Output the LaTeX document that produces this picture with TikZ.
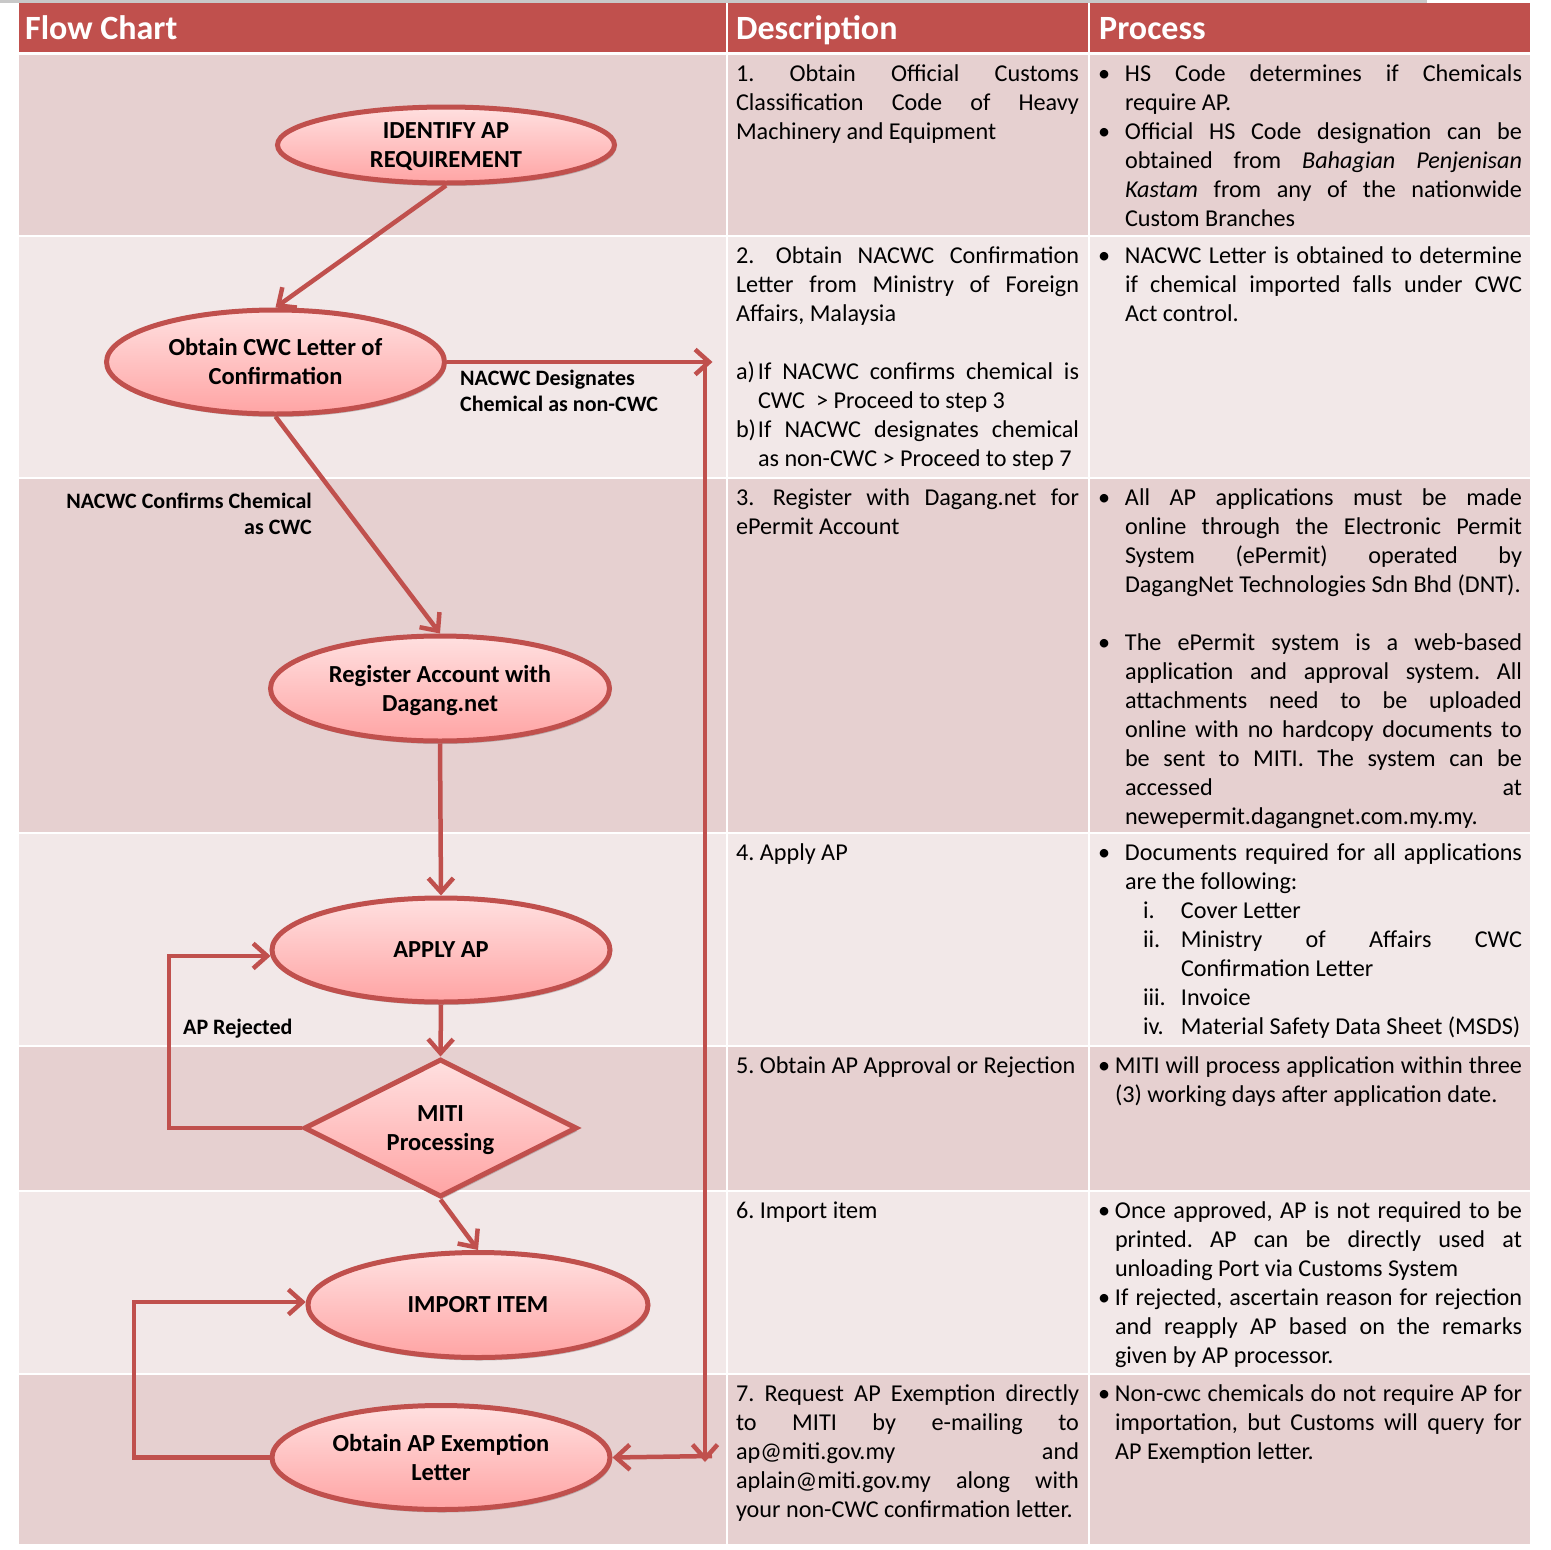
\documentclass[tikz,border=0pt]{standalone}
\usepackage{fontspec}
\setmainfont{Carlito}
\usetikzlibrary{shapes.geometric,arrows.meta,shadows}
\definecolor{hdr}{RGB}{192,80,77}
\definecolor{rowA}{RGB}{230,208,208}
\definecolor{rowB}{RGB}{242,232,232}
\definecolor{fillTop}{RGB}{255,224,224}
\definecolor{fillBot}{RGB}{255,164,164}
\definecolor{topgray}{RGB}{200,200,200}
\newcommand\xJL[2]{\strut\makebox[#1pt][s]{#2}}
\newcommand\xLL[1]{\strut#1}
\newcommand\xBJ[3]{\strut\makebox[#1pt][l]{•}\makebox[#2pt][s]{#3}}
\newcommand\xBL[2]{\strut\makebox[#1pt][l]{•}#2}
\newcommand\xIJ[3]{\strut\hspace*{#1pt}\makebox[#2pt][s]{#3}}
\newcommand\xIL[2]{\strut\hspace*{#1pt}#2}
\newcommand\topr{\rule{0pt}{22pt}}
\newcommand\botr{\rule[-6pt]{0pt}{0pt}}
\frenchspacing
\begin{document}
\begin{tikzpicture}[x=1pt,y=-1pt,
  cell/.style={anchor=north west, inner sep=0pt, outer sep=0pt, align=left, font=\fontsize{24.2}{29}\selectfont\frenchspacing},
  hdrtxt/.style={anchor=base west, inner sep=0pt, text=white, font=\fontsize{34}{40}\selectfont\bfseries},
  ell/.style={ellipse, draw=hdr, line width=5pt, top color=fillTop, bottom color=fillBot,
    drop shadow={shadow xshift=1.5pt, shadow yshift=-3pt, opacity=0.35, fill=black!60},
    inner xsep=0pt, inner ysep=-6pt, align=center, font=\fontsize{24.5}{29}\selectfont\bfseries},
  dia/.style={diamond, draw=hdr, line width=5pt, top color=fillTop, bottom color=fillBot,
    drop shadow={shadow xshift=1.5pt, shadow yshift=-3pt, opacity=0.35, fill=black!60},
    inner sep=0pt, aspect=1.96, align=center, font=\fontsize{24.5}{29}\selectfont\bfseries},
  conn/.style={draw=hdr, line width=4.5pt, -{Straight Barb[length=14pt,width=25pt]}},
  lbl/.style={inner sep=0pt, font=\fontsize{22}{26}\selectfont\bfseries}]
\useasboundingbox (0,0) rectangle (1551,1550);
\fill[white] (0,0) rectangle (1551,1550);
% table
\fill[topgray] (0,0) rectangle (1427,3);
\fill[hdr] (19,3) rectangle (1530,52);
\fill[rowA] (19,55) rectangle (1530,235);
\fill[rowB] (19,237) rectangle (1530,477);
\fill[rowA] (19,479) rectangle (1530,832);
\fill[rowB] (19,834) rectangle (1530,1045);
\fill[rowA] (19,1047) rectangle (1530,1190);
\fill[rowB] (19,1192) rectangle (1530,1373);
\fill[rowA] (19,1375) rectangle (1530,1544);
\draw[white, line width=2pt] (727,3) -- (727,1544);
\draw[white, line width=2pt] (1089,3) -- (1089,1544);
% headers
\node[hdrtxt] (h1) at (25,39) {Flow Chart};
\node[hdrtxt] (h2) at (736,39) {Description};
\node[hdrtxt] (h3) at (1099,39) {Process};
% description column
\node[cell] (d1) at (736,60.7) {\xJL{343}{1. Obtain Official Customs}\\ \xJL{343}{Classification Code of Heavy}\\ \xLL{Machinery and Equipment}};
\node[cell] (d2) at (736,242.7) {\xJL{343}{2.\hspace{6pt} Obtain NACWC Confirmation}\\ \xJL{343}{Letter from Ministry of Foreign}\\ \xLL{Affairs, Malaysia}\\ \strut\\
 \strut\makebox[22pt][l]{a)}\makebox[321pt][s]{If NACWC confirms chemical is}\\ \xIL{22}{CWC \ > Proceed to step 3}\\
 \strut\makebox[22pt][l]{b)}\makebox[321pt][s]{If NACWC designates chemical}\\ \xIL{22}{as non-CWC > Proceed to step 7}};
\node[cell] (d3) at (736,484.7) {\xJL{343}{3.\hspace{4pt} Register with Dagang.net for}\\ \xLL{ePermit Account}};
\node[cell] (d4) at (736,839.7) {\xLL{4. Apply AP}};
\node[cell] (d5) at (736,1052.7) {\xLL{5. Obtain AP Approval or Rejection}};
\node[cell] (d6) at (736,1197.7) {\xLL{6. Import item}};
\node[cell] (d7) at (736,1380.7) {\xJL{343}{7. Request AP Exemption directly}\\ \xJL{343}{to MITI by e-mailing to}\\ \xJL{343}{ap@miti.gov.my and}\\ \xJL{343}{aplain@miti.gov.my along with}\\ \xLL{your non-CWC confirmation letter.}};
% process column
\node[cell] (p1) at (1098,60.7) {\xBJ{27}{397}{HS Code determines if Chemicals}\\ \xIL{27}{require AP.}\\ \xBJ{27}{397}{Official HS Code designation can be}\\ \xIJ{27}{397}{obtained from \textit{Bahagian Penjenisan}}\\ \xIJ{27}{397}{\textit{Kastam} from any of the nationwide}\\ \xIL{27}{Custom Branches}};
\node[cell] (p2) at (1098,242.7) {\xBJ{27}{397}{NACWC Letter is obtained to determine}\\ \xIJ{27}{397}{if chemical imported falls under CWC}\\ \xIL{27}{Act control.}};
\node[cell] (p3) at (1098,484.7) {\xBJ{27}{397}{All AP applications must be made}\\ \xIJ{27}{397}{online through the Electronic Permit}\\ \xIJ{27}{397}{System (ePermit) operated by}\\ \xIL{27}{DagangNet Technologies Sdn Bhd (DNT).}\\ \strut\\
 \xBJ{27}{397}{The ePermit system is a web-based}\\ \xIJ{27}{397}{application and approval system. All}\\ \xIJ{27}{397}{attachments need to be uploaded}\\ \xIJ{27}{397}{online with no hardcopy documents to}\\ \xIJ{27}{397}{be sent to MITI. The system can be}\\ \xIJ{27}{397}{accessed at}\\ \xIL{27}{newepermit.dagangnet.com.my.my.}};
\node[cell] (p4) at (1098,839.7) {\xBJ{27}{397}{Documents required for all applications}\\ \xIL{27}{are the following:}\\
 \strut\hspace*{45pt}\makebox[38pt][l]{i.}Cover Letter\\
 \strut\hspace*{45pt}\makebox[38pt][l]{ii.}\makebox[341pt][s]{Ministry of Affairs CWC}\\
 \xIL{83}{Confirmation Letter}\\
 \strut\hspace*{45pt}\makebox[38pt][l]{iii.}Invoice\\
 \strut\hspace*{45pt}\makebox[38pt][l]{iv.}Material Safety Data Sheet (MSDS)};
\node[cell] (p5) at (1098,1052.7) {\xBJ{17}{407}{MITI will process application within three}\\ \xIL{17}{(3) working days after application date.}};
\node[cell] (p6) at (1098,1197.7) {\xBJ{17}{407}{Once approved, AP is not required to be}\\ \xIJ{17}{407}{printed. AP can be directly used at}\\ \xIL{17}{unloading Port via Customs System}\\
 \xBJ{17}{407}{If rejected, ascertain reason for rejection}\\ \xIJ{17}{407}{and reapply AP based on the remarks}\\ \xIL{17}{given by AP processor.}};
\node[cell] (p7) at (1098,1380.7) {\xBJ{17}{407}{Non-cwc chemicals do not require AP for}\\ \xIJ{17}{407}{importation, but Customs will query for}\\ \xIL{17}{AP Exemption letter.}};
% flow chart nodes
\node[ell, minimum width=337pt, minimum height=76pt] (E1) at (446,145) {\topr IDENTIFY AP\\REQUIREMENT\botr};
\node[ell, minimum width=338pt, minimum height=104pt] (E2) at (275.5,362) {\topr Obtain CWC Letter of\\Confirmation\botr};
\node[ell, minimum width=339pt, minimum height=105pt] (E3) at (440,688.5) {\topr Register Account with\\Dagang.net\botr};
\node[ell, minimum width=338pt, minimum height=104pt] (E4) at (441,950) {APPLY AP};
\node[dia, minimum width=273pt, minimum height=138pt] (D) at (440.5,1128) {\topr MITI\\Processing\botr};
\node[ell, minimum width=340pt, minimum height=105pt] (E5) at (478,1305) {IMPORT ITEM};
\node[ell, minimum width=338pt, minimum height=104pt] (E6) at (441,1457.5) {\topr Obtain AP Exemption\\Letter\botr};
% helper coordinates
\coordinate (rx) at (712.5,0);
\coordinate (vtop) at (705,366);
\coordinate (vbot) at (705,1462);
\coordinate (hs) at (712,1456);
\coordinate (lx1) at (169,0);
\coordinate (lx2) at (134,0);
% connectors
\draw[conn] (E1.south) -- (E2.north);
\draw[conn] (E2.east) -- (E2.east -| rx);
\draw[conn] (vtop) -- (vbot);
\draw[conn] (hs) -- (E6.east);
\draw[conn] (E2.south) -- (E3.north);
\draw[conn] (E3.south) -- (E4.north);
\draw[conn] (E4.south) -- (D.north);
\draw[conn] (D.west) -- (D.west -| lx1) -- (lx1 |- E4.182) -- (E4.182);
\draw[conn] (D.south) -- (E5.north);
\draw[conn] (E6.west) -- (E6.west -| lx2) -- (lx2 |- E5.179) -- (E5.179);
% labels
\node[lbl, anchor=north west, align=left] (L1) at (460,366.8) {\strut NACWC Designates\\\strut Chemical as non-CWC};
\node[lbl, anchor=north east, align=right] (L2) at (312,489.8) {\strut NACWC Confirms Chemical\\\strut as CWC};
\node[lbl, anchor=base west] (L3) at (183,1034) {AP Rejected};
\end{tikzpicture}
\end{document}
